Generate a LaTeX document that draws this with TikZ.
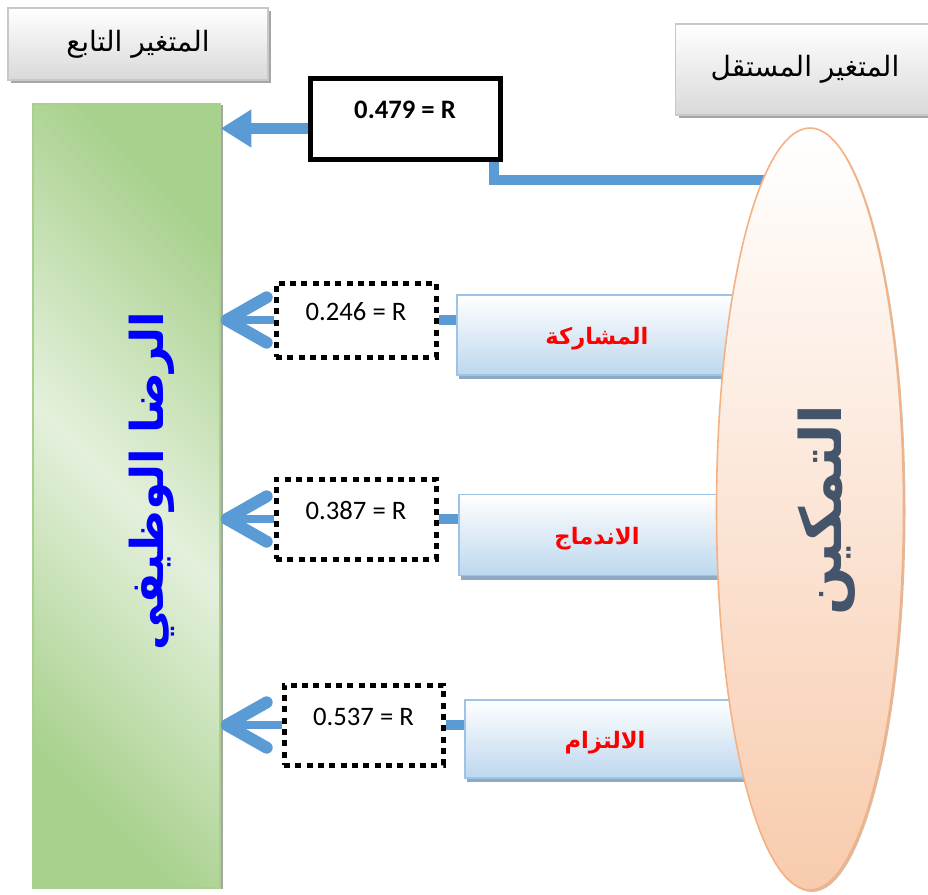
\documentclass[tikz,border=0pt]{standalone}
\usepackage{fontspec}
\setmainfont{Carlito}
\newfontfamily\arabicfont[Script=Arabic]{DejaVu Sans}
\TeXXeTstate=1
\usetikzlibrary{arrows.meta,shapes.geometric,shadows,backgrounds,calc}
\definecolor{arrowblue}{HTML}{5B9BD5}
\definecolor{gdark}{HTML}{A9D18E}
\definecolor{glight}{HTML}{E4F0DC}
\definecolor{peach}{HTML}{F8CBAD}
\definecolor{peachline}{HTML}{F4B183}
\definecolor{lblue}{HTML}{BDD7EE}
\definecolor{lblueline}{HTML}{9DC3E6}
\definecolor{bshadow}{HTML}{8EA9C1}
\definecolor{graybox}{HTML}{D9D9D9}
\definecolor{grayline}{HTML}{C8C8C8}
\definecolor{grayshadow}{HTML}{A6A6A6}
\definecolor{slate}{HTML}{44546A}
\tikzset{
  hdrbox/.style={draw=grayline, line width=0.8pt, top color=white, bottom color=graybox,
    drop shadow={shadow xshift=2.5pt, shadow yshift=-2.5pt, fill=grayshadow, opacity=1},
    inner sep=0pt, font=\arabicfont\fontsize{21}{25}\selectfont},
  factorbox/.style={draw=lblueline, line width=1pt, top color=white, bottom color=lblue,
    drop shadow={shadow xshift=1.5pt, shadow yshift=-3pt, fill=bshadow, opacity=1},
    inner sep=0pt, text=red, text height=20pt, text depth=6pt,
    font=\arabicfont\bfseries\fontsize{17}{20}\selectfont},
  rbox/.style={draw=black, line width=3.75pt, fill=white, inner sep=0pt,
    text height=15pt, text depth=15pt,
    font=\bfseries\fontsize{20}{24}\selectfont},
  dotbox/.style={draw=black, line width=3.75pt, dash pattern=on 4.5pt off 4pt, fill=white,
    inner sep=0pt, text height=13pt, text depth=13pt, font=\fontsize{20}{24}\selectfont},
  solidarrow/.style={draw=arrowblue, line width=8.25pt, -{Triangle[length=23pt,width=27pt]}},
  openarrow/.style={draw=arrowblue, line width=6pt,
    -{Straight Barb[length=30pt,width=34pt,line width=9pt,round]}},
  link/.style={draw=arrowblue, line width=7pt},
}
\begin{document}
\begin{tikzpicture}[x=0.75pt,y=-0.75pt]
\useasboundingbox (0,0) rectangle (928,894);
% header boxes
\node[hdrbox, minimum width=195pt, minimum height=54pt] (dep) at (138,44)
  {\beginR المتغير التابع\endR};
\node[hdrbox, minimum width=194.25pt, minimum height=68.25pt] (ind) at (805,69.5)
  {\beginR المتغير المستقل\endR};
% dependent variable bar
\node[draw=gdark, line width=1pt, top color=gdark, bottom color=gdark, middle color=glight,
  shading angle=-45,
  drop shadow={shadow xshift=2pt, shadow yshift=-1pt, fill=gray!70, opacity=1},
  minimum width=140.25pt, minimum height=588pt, inner sep=0pt] (green) at (126.5,496) {};
\node[rotate=90, text=blue, font=\arabicfont\bfseries\fontsize{34}{40}\selectfont]
  (gtext) at (152,481) {\beginR الرضا الوظيفي\endR};
% R box
\node[rbox, minimum width=142.5pt, minimum height=60.75pt] (Rbox) at (405,118.5) {0.479 = R};
% factor boxes
\node[factorbox, minimum width=210pt, minimum height=60pt] (b1) at (597,335) {\beginR المشاركة\endR};
\node[factorbox, minimum width=207pt, minimum height=60.75pt] (b2) at (597,535) {\beginR الاندماج\endR};
\node[factorbox, minimum width=210pt, minimum height=58.5pt] (b3) at (605,739) {\beginR الالتزام\endR};
% independent variable ellipse
\node[ellipse, draw=peachline, line width=1.2pt, top color=white, bottom color=peach,
  drop shadow={shadow xshift=1.5pt, shadow yshift=-1.5pt, fill=peachline!80!black, opacity=.6},
  minimum width=140.25pt, minimum height=571.5pt, inner sep=0pt] (ell) at (810,509) {};
\node[rotate=90, text=slate, font=\arabicfont\bfseries\fontsize{43}{50}\selectfont]
  (etext) at (827,510) {\beginR التمكين\endR};
% dotted value boxes
\node[dotbox, minimum width=120pt, minimum height=55.5pt] (d1) at (356,320) {0.246 = R};
\node[dotbox, minimum width=120pt, minimum height=60pt] (d2) at (356,519) {0.387 = R};
\node[dotbox, minimum width=119.25pt, minimum height=60pt] (d3) at (363.5,725) {0.537 = R};
\coordinate (rc) at (800,180);
\begin{pgfonlayer}{background}
  \draw[link, line width=7.5pt] ([xshift=-6.75pt]Rbox.south east) |- (rc);
  \draw[link] (b1.west |- d1.east) -- (d1.east);
  \draw[link] (b2.west |- d2.east) -- (d2.east);
  \draw[link] (b3.west |- d3.east) -- (d3.east);
\end{pgfonlayer}
\draw[solidarrow] ([yshift=-7.5pt]Rbox.west) -- ([yshift=-7.5pt]Rbox.west -| green.east);
\draw[openarrow] (d1.west) -- (d1.west -| green.east);
\draw[openarrow] (d2.west) -- (d2.west -| green.east);
\draw[openarrow] (d3.west) -- (d3.west -| green.east);
\end{tikzpicture}
\end{document}
